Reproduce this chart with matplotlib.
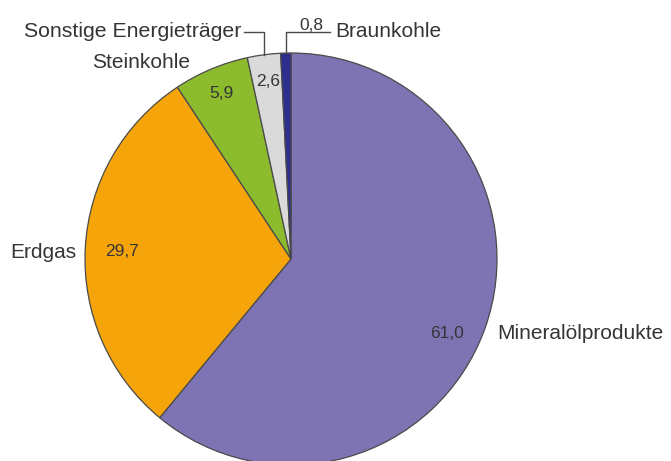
import numpy as np
import matplotlib
matplotlib.use('Agg')
import matplotlib.pyplot as plt

plt.rcParams['font.family'] = ['Liberation Sans', 'DejaVu Sans']

# Daten (Anteile in %), im Uhrzeigersinn ab 12 Uhr
names = ['Mineralölprodukte', 'Erdgas', 'Steinkohle', 'Sonstige Energieträger', 'Braunkohle']
values = [61.0, 29.7, 5.9, 2.6, 0.8]
colors = ['#7E73B3', '#F5A40A', '#8CBB2D', '#DADADA', '#2E2E8E']

W, H = 671, 461
CX, CY, R = 291, 259, 206   # Kreismitte und Radius in Pixeln
TXT = '#353535'


def px(x, y):
    # Pixel (von oben links) -> Datenkoordinaten
    return (x - CX) / R, (CY - y) / R


def fmt(v):
    return f'{v:.1f}'.replace('.', ',')


fig = plt.figure(figsize=(W / 100, H / 100), dpi=100)
ax = fig.add_axes([0, 0, 1, 1])

wedges, _ = ax.pie(values, colors=colors, startangle=90, counterclock=False,
                   radius=1, wedgeprops=dict(edgecolor='#4a4a4a', linewidth=0.9))

# Zahlenwerte in den Segmenten (Pixelpositionen)
pct_pos = [(447, 334), (122, 251), (221, 94), (268, 81)]
for v, (x, y) in zip(values[:4], pct_pos):
    ax.text(*px(x, y), fmt(v), fontsize=12.5, color=TXT, ha='center', va='center')

# Beschriftungen
ax.text(*px(497, 339), names[0], fontsize=15, color=TXT, ha='left', va='baseline')
ax.text(*px(76, 258), names[1], fontsize=15, color=TXT, ha='right', va='baseline')
ax.text(*px(141, 68), names[2], fontsize=15, color=TXT, ha='center', va='baseline')
ax.text(*px(241, 37.5), names[3], fontsize=15.3, color=TXT, ha='right', va='baseline')
ax.text(*px(335, 37.5), names[4], fontsize=15, color=TXT, ha='left', va='baseline')
ax.text(*px(311, 30), fmt(values[4]), fontsize=12.5, color=TXT, ha='center', va='baseline')

# Führungslinien für die kleinen Segmente
elbow_y = px(0, 32.5)[1]
for w, xend in [(wedges[3], px(244, 0)[0]), (wedges[4], px(330, 0)[0])]:
    mid = np.deg2rad((w.theta1 + w.theta2) / 2)
    xr, yr = np.cos(mid), np.sin(mid)
    ax.plot([xr, xr, xend], [yr, elbow_y, elbow_y], color='#4a4a4a', lw=1)

ax.set_xlim(-CX / R, (W - CX) / R)
ax.set_ylim(-(H - CY) / R, CY / R)
ax.set_aspect('equal')
ax.axis('off')

fig.savefig('out.png', dpi=100, facecolor='white')
